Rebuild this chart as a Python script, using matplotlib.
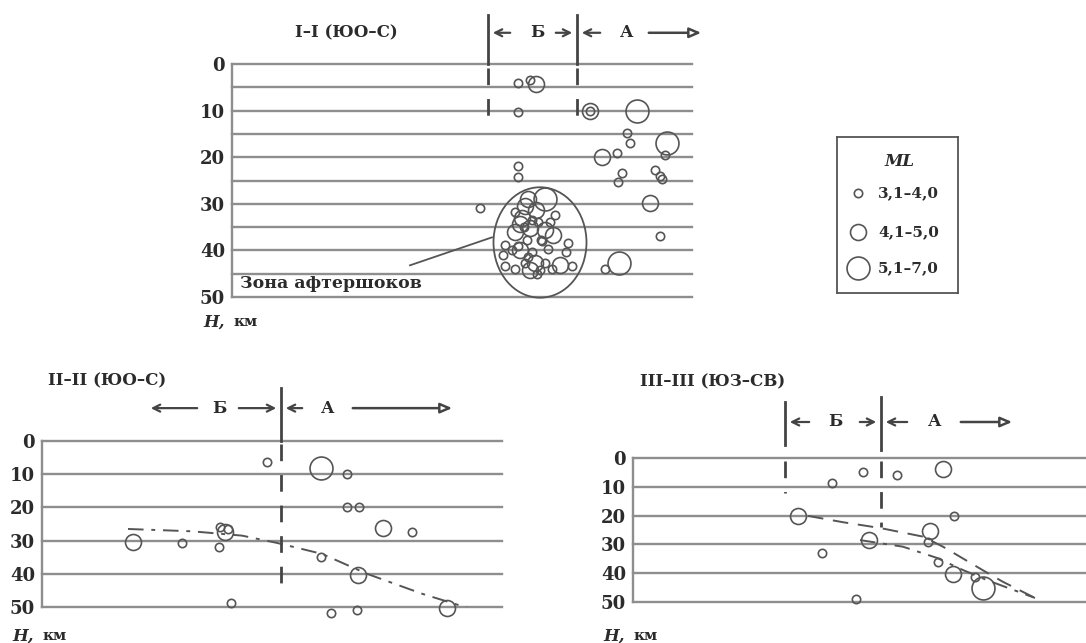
import numpy as np
import matplotlib
matplotlib.use("Agg")
import matplotlib.pyplot as plt
from matplotlib.patches import Ellipse

# -------- CONFIG --------
W, H = 1086, 643
LINE = "#8e8e8e"
MARK = "#555555"
TEXT = "#2b2b2b"
plt.rcParams["font.family"] = ["DejaVu Serif"]

# marker diameter (pt) for each ML class: 3,1-4,0 / 4,1-5,0 / 5,1-7,0
ML_LABELS = ["3,1–4,0", "4,1–5,0", "5,1–7,0"]
ML_SIZE = {1: 6.0, 2: 11.5, 3: 16.5}

# -------- DATA: profile I-I (x = distance along profile, h = depth km) --------
top_x = [286, 298, 304, 286, 358, 358, 405, 395, 398, 435, 433, 370, 385, 390, 386,
         423, 428, 430, 418, 428, 387, 373, 286, 286, 248,
         # aftershock cluster
         313, 296, 304, 290, 288, 298, 306, 313, 321, 309, 283, 295, 273, 280, 288,
         271, 300, 316, 336, 334, 303, 293, 313, 273, 283, 298, 308, 320, 328, 340,
         293, 283, 323, 300, 292, 310, 318, 286, 296, 305]
top_h = [4.1, 3.4, 4.3, 10.3, 10.1, 10.1, 10.1, 14.8, 17.0, 17.0, 19.6, 20.0, 19.1, 23.4, 25.4,
         22.8, 24.1, 24.7, 29.9, 37.0, 42.8, 43.9, 21.9, 24.3, 31.0,
         29.0, 29.0, 31.4, 33.1, 34.4, 35.3, 34.0, 35.7, 36.8, 37.8, 36.1, 37.8, 38.9, 40.0, 40.0,
         41.0, 40.4, 39.6, 38.5, 40.4, 42.6, 42.6, 42.6, 43.4, 43.9, 44.3, 44.3, 43.9, 43.2, 43.4,
         30.5, 31.8, 32.5, 33.5, 35.0, 38.0, 33.8, 39.0, 41.5, 45.0]
top_cls = [1, 1, 2, 1, 2, 1, 3, 1, 1, 3, 1, 2, 1, 1, 1,
           1, 1, 1, 2, 1, 3, 1, 1, 1, 1,
           3, 2, 2, 2, 2, 2, 1, 2, 2, 1, 2, 1, 1, 1, 2,
           1, 1, 1, 1, 1, 2, 1, 1, 1, 1, 2, 1, 1, 2, 1,
           2, 1, 1, 1, 1, 1, 1, 1, 1, 1]

# -------- DATA: profile II-II --------
mid_x = [225, 279, 305, 305, 317, 341, 370, 91, 140, 177, 183, 178, 186,
         279, 316, 189, 289, 315, 405]
mid_h = [6.2, 8.2, 9.9, 19.9, 19.9, 26.2, 27.4, 30.5, 30.8, 31.8, 27.5, 26.0, 26.5,
         35.0, 40.4, 48.8, 51.8, 50.9, 50.3]
mid_cls = [1, 3, 1, 1, 1, 2, 1, 2, 1, 1, 2, 1, 1,
           1, 2, 1, 1, 1, 2]
mid_trend_x = [86, 150, 200, 235, 280, 325, 380, 426]
mid_trend_h = [26.5, 27.2, 28.5, 30.7, 34.0, 40.0, 46.0, 50.3]

# -------- DATA: profile III-III --------
rt_x = [230, 264, 310, 199, 165, 321, 297, 236, 295, 189, 305, 320, 350, 342, 223]
rt_h = [4.9, 5.9, 3.8, 8.7, 20.1, 20.1, 25.3, 28.5, 29.2, 33.0, 36.1, 40.3, 45.1, 41.3, 49.0]
rt_cls = [1, 1, 2, 1, 2, 1, 2, 2, 1, 1, 1, 2, 3, 1, 1]
rt_trend1_x = [175, 210, 247, 290, 310, 350, 370, 402]
rt_trend1_h = [20.1, 22.3, 24.3, 27.3, 30.8, 39.0, 43.0, 48.6]
rt_trend2_x = [227, 270, 304, 330, 354, 402]
rt_trend2_h = [28.5, 30.8, 34.7, 38.9, 42.4, 48.6]

DEPTH_TICKS = [0, 10, 20, 30, 40, 50]

fig = plt.figure(figsize=(W / 100, H / 100), dpi=100)


def px_axes(left, right, top, bottom):
    return fig.add_axes([left / W, (H - bottom) / H, (right - left) / W, (bottom - top) / H])


# -------- PANEL SETUP --------
def setup_panel(ax, width, step):
    ax.set_xlim(0, width)
    ax.set_ylim(50, 0)
    ax.patch.set_alpha(0)
    for h in np.arange(0, 51, step):
        ax.axhline(h, color=LINE, lw=1.7, zorder=1, clip_on=False)
    for s in ["top", "right", "bottom"]:
        ax.spines[s].set_visible(False)
    ax.spines["left"].set_color(LINE)
    ax.spines["left"].set_linewidth(1.7)
    ax.set_xticks([])
    ax.set_yticks(DEPTH_TICKS)
    ax.set_yticklabels([str(t) for t in DEPTH_TICKS], fontweight="bold", color=TEXT)
    ax.tick_params(axis="y", length=0, pad=5, labelsize=13)


def draw_quakes(ax, xs, hs, cls):
    for x, h, c in zip(xs, hs, cls):
        ax.plot(x, h, "o", ms=ML_SIZE[c], mfc="none", mec=MARK, mew=1.2,
                zorder=3, clip_on=False)


def boundary(ax, x, h_top, h_bot, dash_end, dash_start=0.8):
    ax.plot([x, x], [h_top, h_bot], color="#444444", lw=2.0, clip_on=False, zorder=2)
    ax.plot([x, x], [dash_start, dash_end], color="#444444", lw=2.0,
            dashes=(6, 5), clip_on=False, zorder=2)


def arrow(ax, x_tail, x_head, h, open_head=False):
    if open_head:
        props = dict(arrowstyle="-|>,head_length=0.7,head_width=0.3", color="#444444",
                     fc="white", lw=1.8)
    else:
        props = dict(arrowstyle="->,head_length=0.5,head_width=0.25", color="#444444", lw=1.6)
    ax.annotate("", xy=(x_head, h), xytext=(x_tail, h), arrowprops=props,
                annotation_clip=False)


def label(ax, x, h, s, **kw):
    ax.text(x, h, s, color=TEXT, fontsize=12, fontweight="bold", va="center",
            clip_on=False, **kw)


def depth_label(ax, x, h):
    ax.text(x, h, "H,", color=TEXT, fontsize=12, fontweight="bold", style="italic",
            va="center", clip_on=False)
    ax.annotate("км", xy=(x, h), xytext=(22, 0), textcoords="offset points",
                color=TEXT, fontsize=11, fontweight="bold", va="center",
                annotation_clip=False)


# -------- PANEL I-I --------
ax1 = px_axes(232, 692, 64, 297)
setup_panel(ax1, 460, 5)
draw_quakes(ax1, top_x, top_h, top_cls)
ax1.add_patch(Ellipse((308, 38.3), 93, 23.7, fill=False, ec=MARK, lw=1.3, zorder=3,
                      clip_on=False))
ax1.plot([178, 260], [43.2, 37.2], color=MARK, lw=1.3, zorder=3)
ax1.text(8, 47.2, "Зона афтершоков", color=TEXT, fontsize=12.5, fontweight="bold",
         va="center")
boundary(ax1, 256, -10.5, 0, 12.5)
boundary(ax1, 345, -10.5, 0, 13.8)
arrow(ax1, 281, 258, -6.7)
label(ax1, 305, -6.7, "Б", ha="center")
arrow(ax1, 321, 343, -6.7)
arrow(ax1, 371, 347, -6.7)
label(ax1, 395, -6.7, "А", ha="center")
arrow(ax1, 414, 472, -6.7, open_head=True)
label(ax1, 63, -6.7, "I–I (ЮО–С)")
depth_label(ax1, -29, 55.4)

# -------- PANEL II-II --------
ax2 = px_axes(42, 502, 441, 607)
setup_panel(ax2, 460, 10)
draw_quakes(ax2, mid_x, mid_h, mid_cls)
ax2.plot(mid_trend_x, mid_trend_h, color=MARK, lw=1.4, dashes=(8, 4, 2, 4), zorder=2)
boundary(ax2, 239, -16, 0, 46, dash_start=1.0)
arrow(ax2, 158, 106, -9.9)
label(ax2, 177, -9.9, "Б", ha="center")
arrow(ax2, 194, 237, -9.9)
arrow(ax2, 263, 241, -9.9)
label(ax2, 286, -9.9, "А", ha="center")
arrow(ax2, 308, 413, -9.9, open_head=True)
label(ax2, 6, -18, "II–II (ЮО–С)")
depth_label(ax2, -30, 58.7)

# -------- PANEL III-III --------
ax3 = px_axes(633, 1086, 458, 602)
setup_panel(ax3, 453, 10)
draw_quakes(ax3, rt_x, rt_h, rt_cls)
ax3.plot(rt_trend1_x, rt_trend1_h, color=MARK, lw=1.4, dashes=(8, 5), zorder=2)
ax3.plot(rt_trend2_x, rt_trend2_h, color=MARK, lw=1.4, dashes=(8, 4, 2, 4), zorder=2)
boundary(ax3, 152, -19.4, -4.5, 12, dash_start=1.0)
boundary(ax3, 248, -21.2, -2.8, 24, dash_start=1.0)
arrow(ax3, 179, 154, -12.5)
label(ax3, 202, -12.5, "Б", ha="center")
arrow(ax3, 224, 246, -12.5)
arrow(ax3, 277, 250, -12.5)
label(ax3, 302, -12.5, "А", ha="center")
arrow(ax3, 325, 382, -12.5, open_head=True)
label(ax3, 7, -26.4, "III–III (ЮЗ–СВ)")
depth_label(ax3, -30, 61.8)

# -------- LEGEND --------
axl = px_axes(837, 958, 137, 293)
axl.set_xlim(0, 121)
axl.set_ylim(156, 0)
axl.set_xticks([])
axl.set_yticks([])
for s in axl.spines.values():
    s.set_color(MARK)
    s.set_linewidth(1.3)
axl.text(63, 25, "ML", color=TEXT, fontsize=12, fontweight="bold", style="italic",
         ha="center", va="center")
for i, (yy, lab) in enumerate(zip([56, 95, 131], ML_LABELS)):
    axl.plot(21, yy, "o", ms=ML_SIZE[i + 1], mfc="none", mec=MARK, mew=1.2)
    axl.text(41, yy, lab, color=TEXT, fontsize=11, fontweight="bold", va="center")

fig.savefig("out.png", dpi=100, facecolor="white")
